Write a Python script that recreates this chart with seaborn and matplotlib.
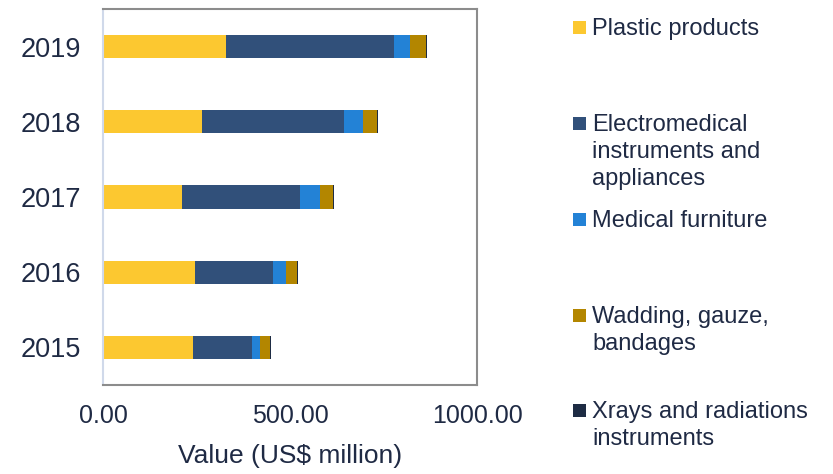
import matplotlib
matplotlib.use("Agg")
import matplotlib.pyplot as plt
from matplotlib.patches import Rectangle
import seaborn as sns
import pandas as pd
import numpy as np

years = ['2019', '2018', '2017', '2016', '2015']
plastic = [329, 265, 211, 247, 241]
electro = [450, 379, 317, 207, 157]
furniture = [41, 52, 51, 36, 21]
wadding = [43, 36, 36, 29, 27]
xrays = [4.5, 3.5, 3.5, 2.7, 2]

series_names = ['Plastic products',
                'Electromedical\ninstruments and\nappliances',
                'Medical furniture',
                'Wadding, gauze,\nbandages',
                'Xrays and radiations\ninstruments']
colors = ['#FCC830', '#31507A', '#2382D6', '#B38600', '#1E2C44']
x_ticks = [0, 500, 1000]
x_tick_labels = ['0.00', '500.00', '1000.00']

sns.set_theme(style='white')
plt.rcParams['font.family'] = ['Liberation Sans', 'DejaVu Sans']
text_color = '#1F2A44'

fig = plt.figure(figsize=(8.33, 4.74), dpi=100)
ax = fig.add_axes([103 / 833, 1 - 385 / 474, (477 - 103) / 833, (385 - 9) / 474])

values = [plastic, electro, furniture, wadding, xrays]
cum = np.cumsum(np.array(values, dtype=float), axis=0)
df = pd.DataFrame({'year': years})
for i in range(len(values)):
    df[f's{i}'] = cum[i]

# draw from largest cumulative to smallest so each segment shows
for i in reversed(range(len(values))):
    sns.barplot(data=df, y='year', x=f's{i}', order=years, color=colors[i],
                orient='h', width=0.31, saturation=1, ax=ax, linewidth=0)

ax.set_xlim(0, 1000)
ax.set_ylim(len(years) - 0.5, -0.5)
ax.set_xticks(x_ticks)
ax.set_xticklabels(x_tick_labels)
ax.tick_params(axis='x', length=0, pad=14, labelsize=18, labelcolor=text_color)
ax.tick_params(axis='y', length=0, pad=16, labelsize=19.5, labelcolor=text_color)
ax.set_ylabel('')
ax.set_xlabel('Value (US$ million)', fontsize=19, color=text_color, labelpad=11)

for side in ['top', 'right', 'bottom']:
    ax.spines[side].set_visible(True)
    ax.spines[side].set_color('#8C8C8C')
    ax.spines[side].set_linewidth(1.5)
ax.spines['left'].set_visible(True)
ax.spines['left'].set_color('#D0D9EA')
ax.spines['left'].set_linewidth(1.5)
ax.grid(False)

# legend: fixed pitch slots
W, H = 833, 474
slot_y = [27, 123, 219, 315, 410]
for name, col, yc in zip(series_names, colors, slot_y):
    fig.patches.append(Rectangle((573 / W, 1 - (yc + 6.5) / H), 13 / W, 13 / H,
                                 transform=fig.transFigure, facecolor=col,
                                 edgecolor='none'))
    fig.text(592 / W, 1 - (yc - 9) / H, name, fontsize=17, color=text_color,
             va='top', ha='left', linespacing=1.3)

fig.savefig('out.png', dpi=100)
